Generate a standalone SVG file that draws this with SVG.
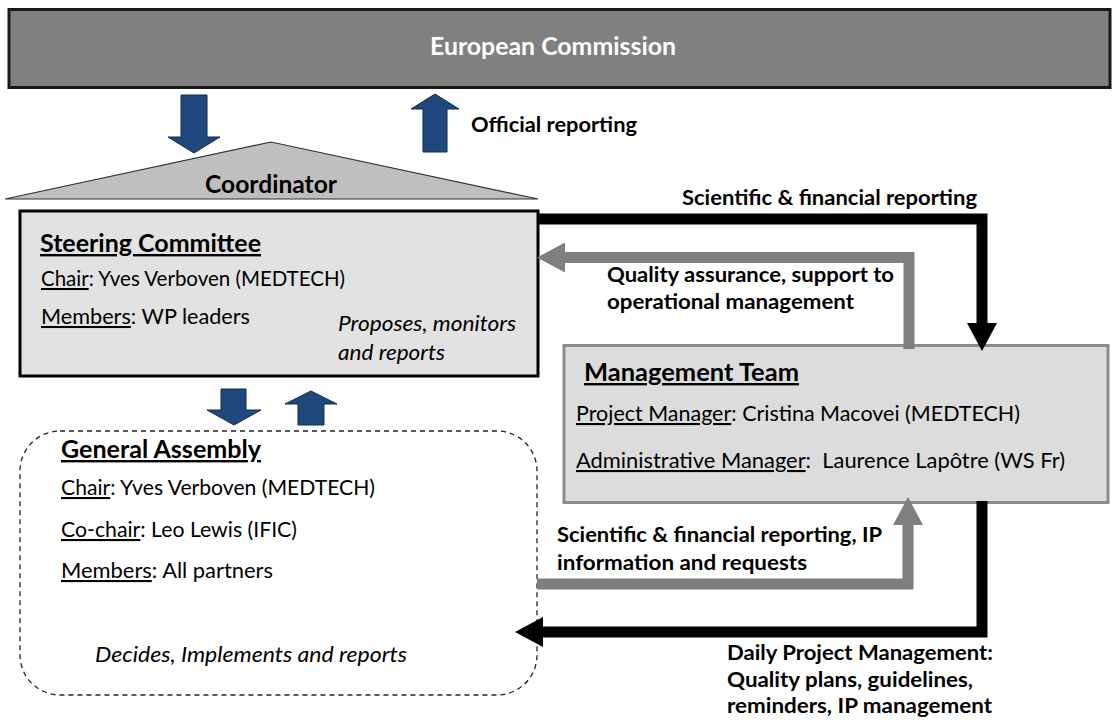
<svg xmlns="http://www.w3.org/2000/svg" width="1118" height="722" viewBox="0 0 1118 722">
  <defs>
    <style>
      text { font-family: Lato, "Liberation Sans", Arial, sans-serif; fill: #000; }
      .b { font-weight: bold; }
      .i { font-style: italic; }
      .u { text-decoration: underline; }
      .r20 { font-size: 20.3px; }
      .r21 { font-size: 21px; }
      .lbl { font-size: 21px; font-weight: bold; }
      .h { font-size: 24px; font-weight: bold; }
      .blue { fill: #1f497d; stroke: #0f2a4a; stroke-width: 1; }
      .blk { fill: none; stroke: #000; stroke-width: 11; stroke-linejoin: miter; }
      .gry { fill: none; stroke: #7f7f7f; stroke-width: 11; stroke-linejoin: miter; }
    </style>
    <marker id="headBlack" viewBox="0 0 28 30" refX="0" refY="15" markerWidth="28" markerHeight="30" markerUnits="userSpaceOnUse" orient="auto">
      <path d="M0,0 L28,15 L0,30 z" fill="#000"/>
    </marker>
    <marker id="headGray" viewBox="0 0 28 30" refX="0" refY="15" markerWidth="28" markerHeight="30" markerUnits="userSpaceOnUse" orient="auto">
      <path d="M0,0 L28,15 L0,30 z" fill="#7f7f7f"/>
    </marker>
  </defs>

  <rect width="1118" height="722" fill="#fff"/>

  <!-- European Commission banner -->
  <g id="european-commission">
    <rect x="9" y="9.5" width="1101" height="78" fill="#808080" stroke="#1a1a1a" stroke-width="3"/>
    <text x="553" y="55" text-anchor="middle" class="h" style="fill:#fff" textLength="246" lengthAdjust="spacingAndGlyphs">European Commission</text>
  </g>

  <!-- Coordinator roof -->
  <g id="coordinator">
    <polygon points="5,199 271,142 538,199" fill="#bfbfbf" stroke="#333" stroke-width="1.2"/>
    <text x="271" y="193" text-anchor="middle" class="h" textLength="132" lengthAdjust="spacingAndGlyphs">Coordinator</text>
  </g>

  <!-- Steering Committee -->
  <g id="steering-committee">
    <rect x="20" y="211" width="518" height="165" fill="#e2e2e2" stroke="#000" stroke-width="3"/>
    <text x="40" y="252" class="h u" textLength="221" lengthAdjust="spacingAndGlyphs">Steering Committee</text>
    <text x="41" y="286" class="r20" textLength="304" lengthAdjust="spacingAndGlyphs"><tspan class="u">Chair</tspan>: Yves Verboven (MEDTECH)</text>
    <text x="41" y="324" class="r20" textLength="209" lengthAdjust="spacingAndGlyphs"><tspan class="u">Members</tspan>: WP leaders</text>
    <text x="338" y="331" class="r20 i" textLength="178" lengthAdjust="spacingAndGlyphs">Proposes, monitors</text>
    <text x="338" y="360" class="r20 i" textLength="107" lengthAdjust="spacingAndGlyphs">and reports</text>
  </g>

  <!-- Management Team -->
  <g id="management-team">
    <rect x="564" y="345.5" width="544" height="157" fill="#dcdcdc" stroke="#8c8c8c" stroke-width="3"/>
    <text x="584" y="381" class="h u" textLength="215" lengthAdjust="spacingAndGlyphs">Management Team</text>
    <text x="576" y="421" class="r21" textLength="444" lengthAdjust="spacingAndGlyphs"><tspan class="u">Project Manager</tspan>: Cristina Macovei (MEDTECH)</text>
    <text x="576" y="468" class="r21" textLength="489" lengthAdjust="spacingAndGlyphs" xml:space="preserve"><tspan class="u">Administrative Manager</tspan>:  Laurence Lapôtre (WS Fr)</text>
  </g>

  <!-- General Assembly -->
  <g id="general-assembly">
    <rect x="20" y="431" width="517" height="264" rx="40" ry="40" fill="#fff" stroke="#222" stroke-width="1.3" stroke-dasharray="5 4"/>
    <text x="61" y="458" class="h u" textLength="200" lengthAdjust="spacingAndGlyphs">General Assembly</text>
    <text x="61" y="495" class="r21" textLength="314" lengthAdjust="spacingAndGlyphs"><tspan class="u">Chair</tspan>: Yves Verboven (MEDTECH)</text>
    <text x="61" y="537" class="r21" textLength="236" lengthAdjust="spacingAndGlyphs"><tspan class="u">Co-chair</tspan>: Leo Lewis (IFIC)</text>
    <text x="61" y="578" class="r21" textLength="212" lengthAdjust="spacingAndGlyphs"><tspan class="u">Members</tspan>: All partners</text>
    <text x="95" y="662" class="r21 i" textLength="312" lengthAdjust="spacingAndGlyphs">Decides, Implements and reports</text>
  </g>

  <!-- Connectors -->
  <g id="connectors">
    <!-- block arrows between Commission and Coordinator -->
    <polygon class="blue" points="181,95 207,95 207,137 220,137 194,153 168,137 181,137"/>
    <polygon class="blue" points="423,152 447,152 447,109 459,109 435,94 411,109 423,109"/>
    <text x="471" y="132" class="lbl" textLength="166" lengthAdjust="spacingAndGlyphs">Official reporting</text>

    <!-- block arrows between Steering Committee and General Assembly -->
    <polygon class="blue" points="221,389 246,389 246,410 261,410 234,425 207,410 221,410"/>
    <polygon class="blue" points="298,425 324,425 324,404 337,404 311,391 285,404 298,404"/>

    <!-- Steering Committee to Management Team -->
    <path class="blk" d="M538,219 H982 V323" marker-end="url(#headBlack)"/>
    <text x="682" y="205" class="lbl" textLength="295" lengthAdjust="spacingAndGlyphs">Scientific &amp; financial reporting</text>

    <!-- Management Team to Steering Committee -->
    <path class="gry" d="M909,349 V257.5 H565" marker-end="url(#headGray)"/>
    <text x="607" y="282" class="lbl" textLength="287" lengthAdjust="spacingAndGlyphs">Quality assurance, support to</text>
    <text x="607" y="309" class="lbl" textLength="247" lengthAdjust="spacingAndGlyphs">operational management</text>

    <!-- General Assembly to Management Team -->
    <path class="gry" d="M537,584 H908 V525" marker-end="url(#headGray)"/>
    <text x="557" y="542" class="lbl" textLength="325" lengthAdjust="spacingAndGlyphs">Scientific &amp; financial reporting, IP</text>
    <text x="557" y="570" class="lbl" textLength="250" lengthAdjust="spacingAndGlyphs">information and requests</text>

    <!-- Management Team to General Assembly -->
    <path class="blk" d="M982,501 V632 H543" marker-end="url(#headBlack)"/>
    <text x="727" y="660" class="lbl" textLength="266" lengthAdjust="spacingAndGlyphs">Daily Project Management:</text>
    <text x="727" y="687" class="lbl" textLength="246" lengthAdjust="spacingAndGlyphs">Quality plans, guidelines,</text>
    <text x="727" y="713" class="lbl" textLength="265" lengthAdjust="spacingAndGlyphs">reminders, IP management</text>
  </g>
</svg>
